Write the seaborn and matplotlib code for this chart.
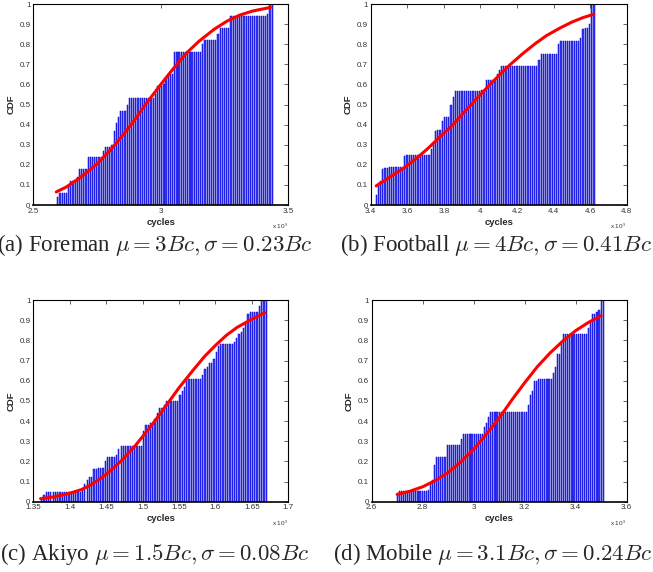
import numpy as np
import matplotlib
matplotlib.use('Agg')
import matplotlib.pyplot as plt
from matplotlib.ticker import FormatStrFormatter
import seaborn as sns

# all x values in units of 1e9 cycles

# (a) Foreman
fore_step_x = [2.592, 2.601, 2.637, 2.644, 2.667, 2.676, 2.709, 2.768, 2.777, 2.801, 2.810,
               2.816, 2.824, 2.833, 2.842, 2.866, 2.875, 2.971, 2.984, 3.010, 3.016, 3.023,
               3.052, 3.160, 3.167, 3.219, 3.228, 3.269, 3.415, 3.422, 3.428]
fore_step_y = [0.04, 0.06, 0.10, 0.12, 0.14, 0.18, 0.24, 0.27, 0.29, 0.30, 0.35,
               0.37, 0.41, 0.44, 0.47, 0.50, 0.53, 0.55, 0.59, 0.60, 0.63, 0.65,
               0.76, 0.80, 0.82, 0.85, 0.88, 0.94, 0.95, 0.97, 1.0]
fore_end = 3.441
fore_fit_x = [2.59, 2.63, 2.67, 2.70, 2.75, 2.80, 2.84, 2.89, 2.94, 3.00, 3.05, 3.10, 3.15,
              3.21, 3.26, 3.31, 3.36, 3.43]
fore_fit_y = [0.065, 0.09, 0.125, 0.152, 0.205, 0.27, 0.33, 0.41, 0.50, 0.60, 0.68, 0.755,
              0.815, 0.875, 0.915, 0.945, 0.965, 0.983]

# (b) Football
foot_step_x = [3.424, 3.433, 3.447, 3.460, 3.473, 3.497, 3.579, 3.593, 3.721, 3.734, 3.746,
               3.761, 3.779, 3.794, 3.830, 3.843, 3.852, 4.007, 4.020, 4.089, 4.098, 4.107,
               4.317, 4.326, 4.423, 4.435, 4.541, 4.554, 4.572, 4.585, 4.599]
foot_step_y = [0.05, 0.11, 0.12, 0.18, 0.185, 0.19, 0.245, 0.25, 0.28, 0.31, 0.37,
               0.375, 0.42, 0.44, 0.50, 0.535, 0.565, 0.57, 0.62, 0.65, 0.67, 0.69,
               0.72, 0.75, 0.80, 0.815, 0.83, 0.875, 0.88, 0.90, 1.0]
foot_end = 4.627
foot_fit_x = [3.43, 3.50, 3.58, 3.65, 3.71, 3.78, 3.85, 3.91, 3.97, 4.03, 4.10, 4.16, 4.23,
              4.30, 4.36, 4.43, 4.50, 4.56, 4.62]
foot_fit_y = [0.095, 0.136, 0.183, 0.232, 0.279, 0.34, 0.40, 0.46, 0.52, 0.578, 0.643, 0.696,
              0.752, 0.803, 0.842, 0.878, 0.910, 0.932, 0.949]

# (c) Akiyo
aki_step_x = [1.3601, 1.3629, 1.3661, 1.4164, 1.4187, 1.4219, 1.4255, 1.4324, 1.4370, 1.4461,
              1.4498, 1.4621, 1.4653, 1.4690, 1.5010, 1.5047, 1.5093, 1.5147, 1.5193, 1.5230,
              1.5276, 1.5321, 1.5491, 1.5523, 1.5559, 1.5605, 1.5797, 1.5834, 1.5870, 1.5916,
              1.5962, 1.6008, 1.6040, 1.6072, 1.6236, 1.6268, 1.6300, 1.6337, 1.6374, 1.6406,
              1.6438, 1.6465, 1.6589, 1.6634]
aki_step_y = [0.01, 0.035, 0.05, 0.06, 0.09, 0.11, 0.12, 0.16, 0.165, 0.20,
              0.22, 0.23, 0.26, 0.275, 0.35, 0.38, 0.39, 0.41, 0.44, 0.465,
              0.48, 0.50, 0.53, 0.55, 0.57, 0.61, 0.63, 0.66, 0.67, 0.69,
              0.71, 0.74, 0.77, 0.78, 0.79, 0.81, 0.83, 0.84, 0.86, 0.89,
              0.93, 0.94, 0.97, 1.0]
aki_end = 1.6712
aki_fit_x = [1.36, 1.38, 1.40, 1.416, 1.43, 1.45, 1.47, 1.49, 1.51, 1.523, 1.537, 1.55, 1.57,
             1.585, 1.60, 1.615, 1.63, 1.65, 1.668]
aki_fit_y = [0.015, 0.025, 0.042, 0.06, 0.085, 0.135, 0.20, 0.278, 0.368, 0.43, 0.50, 0.565,
             0.655, 0.72, 0.775, 0.825, 0.865, 0.905, 0.937]

# (d) Mobile
mob_step_x = [2.6957, 2.7049, 2.8164, 2.8256, 2.8322, 2.8400, 2.8492, 2.8886, 2.8925, 2.9476,
              2.9542, 3.0369, 3.0461, 3.0526, 3.0592, 3.2127, 3.2206, 3.2298, 3.2363, 3.2469,
              3.3085, 3.3151, 3.3217, 3.3282, 3.3387, 3.3479, 3.4463, 3.4568, 3.4660, 3.4752,
              3.4883, 3.4962]
mob_step_y = [0.045, 0.055, 0.06, 0.09, 0.11, 0.18, 0.22, 0.25, 0.28, 0.31,
              0.335, 0.37, 0.39, 0.42, 0.445, 0.48, 0.53, 0.55, 0.60, 0.61,
              0.64, 0.67, 0.71, 0.73, 0.78, 0.83, 0.86, 0.89, 0.93, 0.94,
              0.95, 1.0]
mob_end = 3.5119
mob_fit_x = [2.70, 2.75, 2.80, 2.85, 2.90, 2.95, 3.00, 3.05, 3.10, 3.15, 3.20, 3.25, 3.30,
             3.35, 3.40, 3.45, 3.50]
mob_fit_y = [0.036, 0.052, 0.074, 0.105, 0.145, 0.198, 0.26, 0.335, 0.415, 0.505, 0.59, 0.67,
             0.738, 0.797, 0.848, 0.889, 0.922]

captions = [r'(a) Foreman $\mu = 3Bc, \sigma = 0.23Bc$',
            r'(b) Football $\mu = 4Bc, \sigma = 0.41Bc$',
            r'(c) Akiyo $\mu = 1.5Bc, \sigma = 0.08Bc$',
            r'(d) Mobile $\mu = 3.1Bc, \sigma = 0.24Bc$']
xlims = [(2.5, 3.5), (3.4, 4.8), (1.35, 1.7), (2.6, 3.6)]
xtick_steps = [0.5, 0.2, 0.05, 0.2]
n_bins = 100

sns.set_style('white')
plt.rcParams['font.family'] = ['Liberation Sans', 'DejaVu Sans']
plt.rcParams['mathtext.fontset'] = 'cm'

fig = plt.figure(figsize=(6.53, 5.72), dpi=100)
boxes = [[0.051, 0.6416, 0.3905, 0.3514],
         [0.5677, 0.6416, 0.392, 0.3514],
         [0.051, 0.1229, 0.3905, 0.3526],
         [0.5692, 0.1229, 0.3905, 0.3526]]

panels = [(fore_step_x, fore_step_y, fore_end, fore_fit_x, fore_fit_y),
          (foot_step_x, foot_step_y, foot_end, foot_fit_x, foot_fit_y),
          (aki_step_x, aki_step_y, aki_end, aki_fit_x, aki_fit_y),
          (mob_step_x, mob_step_y, mob_end, mob_fit_x, mob_fit_y)]

for i, (sx, sy, end, fx, fy) in enumerate(panels):
    ax = fig.add_axes(boxes[i])
    edges = np.linspace(sx[0], end, n_bins + 1)
    centers = (edges[:-1] + edges[1:]) / 2
    idx = np.searchsorted(sx, centers, side='right') - 1
    heights = np.array(sy)[idx]
    ax.bar(centers, heights, width=0.55 * (edges[1] - edges[0]),
           color='#3c3cff', edgecolor='#0000c8', linewidth=0.35)
    sns.lineplot(x=fx, y=fy, ax=ax, color='red', linewidth=2.2, sort=False, estimator=None)

    lo, hi = xlims[i]
    ax.set_xlim(lo, hi)
    ax.set_ylim(0, 1)
    ax.set_xticks(np.arange(lo, hi + 1e-9, xtick_steps[i]))
    ax.set_yticks(np.arange(0, 1.0001, 0.1))
    ax.xaxis.set_major_formatter(FormatStrFormatter('%g'))
    ax.yaxis.set_major_formatter(FormatStrFormatter('%g'))
    ax.tick_params(direction='in', top=True, right=True, length=3, width=0.5,
                   labelsize=5.8, pad=2, labelcolor='#333333')
    for s in ax.spines.values():
        s.set_color('black')
        s.set_linewidth(0.8)
    ax.spines['bottom'].set_linewidth(1.2)
    ax.set_xlabel('cycles', fontsize=6.8, fontweight='bold', labelpad=2)
    ax.set_ylabel('CDF', fontsize=6.8, fontweight='bold', labelpad=3)
    ax.text(1.0, -0.082, r'x 10$^9$', transform=ax.transAxes, ha='right', va='top',
            fontsize=4.6, color='#333333')

cap_font = ['Liberation Serif', 'DejaVu Serif']
cap_size = 16.5
fig.text(-0.004, 1 - 251 / 572, captions[0], family=cap_font, fontsize=cap_size, ha='left', va='baseline')
fig.text(340 / 653, 1 - 251 / 572, captions[1], family=cap_font, fontsize=cap_size, ha='left', va='baseline')
fig.text(0.0, 1 - 560 / 572, captions[2], family=cap_font, fontsize=cap_size, ha='left', va='baseline')
fig.text(333 / 653, 1 - 560 / 572, captions[3], family=cap_font, fontsize=cap_size, ha='left', va='baseline')

fig.savefig('out.png', dpi=100)
